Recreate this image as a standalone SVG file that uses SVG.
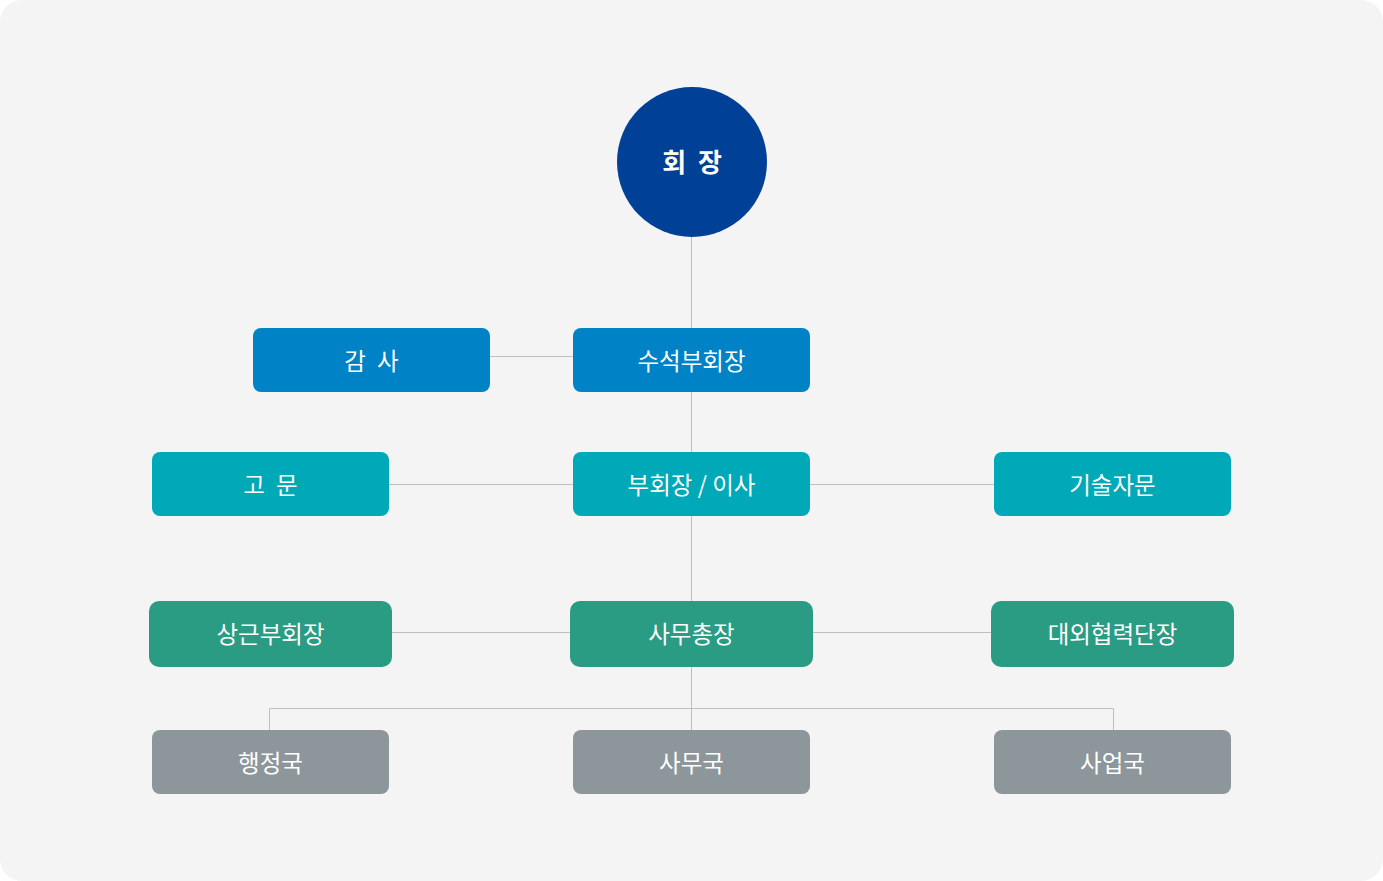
<svg xmlns="http://www.w3.org/2000/svg" width="1383" height="881" viewBox="0 0 1383 881">
<style>
.bg{fill:#f4f4f4}
.ln{stroke:#bfbfbf;stroke-width:1;fill:none}
.t{font-family:"Noto Sans CJK KR","Noto Sans",sans-serif;font-size:23.5px;fill:#ffffff;text-anchor:middle;font-weight:400;word-spacing:6px}
.tc{font-family:"Noto Sans CJK KR","Noto Sans",sans-serif;font-size:26px;fill:#ffffff;text-anchor:middle;font-weight:700;word-spacing:6px}
.blue{fill:#0083c6}
.teal{fill:#00a9b7}
.green{fill:#2b9c84}
.gray{fill:#8c969b}
</style>
<rect x="0" y="0" width="1383" height="881" fill="#ffffff"/>
<rect class="bg" x="0" y="0" width="1383" height="881" rx="22"/>
<g id="connectors">
<line class="ln" x1="691.5" y1="237" x2="691.5" y2="730"/>
<line class="ln" x1="490" y1="356.5" x2="573" y2="356.5"/>
<line class="ln" x1="389" y1="484.5" x2="573" y2="484.5"/>
<line class="ln" x1="810" y1="484.5" x2="994" y2="484.5"/>
<line class="ln" x1="392" y1="632.5" x2="570" y2="632.5"/>
<line class="ln" x1="813" y1="632.5" x2="991" y2="632.5"/>
<polyline class="ln" points="269.5,730 269.5,708.5 1113.5,708.5 1113.5,730"/>
</g>
<g id="n-chairman">
<circle cx="692" cy="162" r="75" fill="#004197"/>
<text class="tc" x="692" y="172">회 장</text>
</g>
<g id="n-auditor">
<rect class="blue" x="253" y="328" width="237" height="64" rx="8"/>
<text class="t" x="371.5" y="370">감 사</text>
</g>
<g id="n-senior-vp">
<rect class="blue" x="573" y="328" width="237" height="64" rx="8"/>
<text class="t" x="691.5" y="370">수석부회장</text>
</g>
<g id="n-advisor">
<rect class="teal" x="152" y="452" width="237" height="64" rx="8"/>
<text class="t" x="270.5" y="494">고 문</text>
</g>
<g id="n-vp-director">
<rect class="teal" x="573" y="452" width="237" height="64" rx="8"/>
<text class="t" x="691.5" y="494" style="word-spacing:0">부회장 / 이사</text>
</g>
<g id="n-tech-advisor">
<rect class="teal" x="994" y="452" width="237" height="64" rx="8"/>
<text class="t" x="1112.5" y="494">기술자문</text>
</g>
<g id="n-standing-vp">
<rect class="green" x="149" y="601" width="243" height="66" rx="10"/>
<text class="t" x="270.5" y="643">상근부회장</text>
</g>
<g id="n-secretary-general">
<rect class="green" x="570" y="601" width="243" height="66" rx="10"/>
<text class="t" x="691.5" y="643">사무총장</text>
</g>
<g id="n-external">
<rect class="green" x="991" y="601" width="243" height="66" rx="10"/>
<text class="t" x="1112.5" y="643">대외협력단장</text>
</g>
<g id="n-admin">
<rect class="gray" x="152" y="730" width="237" height="64" rx="8"/>
<text class="t" x="270.5" y="772">행정국</text>
</g>
<g id="n-office">
<rect class="gray" x="573" y="730" width="237" height="64" rx="8"/>
<text class="t" x="691.5" y="772">사무국</text>
</g>
<g id="n-business">
<rect class="gray" x="994" y="730" width="237" height="64" rx="8"/>
<text class="t" x="1112.5" y="772">사업국</text>
</g>
</svg>
